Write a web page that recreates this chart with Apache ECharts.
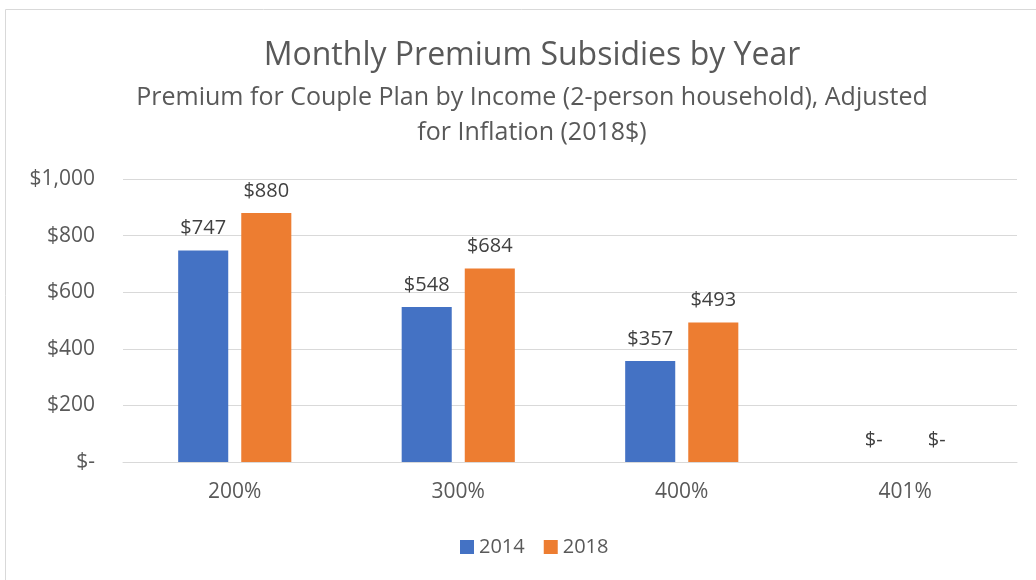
<!DOCTYPE html>
<html>
<head>
<meta charset="utf-8">
<script src="https://cdn.jsdelivr.net/npm/echarts@6/dist/echarts.min.js"></script>
<style>
  html, body { margin: 0; padding: 0; background: #fff; }
  #chart { width: 1036px; height: 580px; }
</style>
</head>
<body>
<div id="chart"></div>
<script>
const categories = ['200%', '300%', '400%', '401%']
const values2014 = [747, 548, 357, 0]
const values2018 = [880, 684, 493, 0]
const seriesNames = ['2014', '2018']

const fontFamily = 'Open Sans'

// excel-ish accounting format: zero shows as "$-"
function money(v) {
  if (v === 0) return '$-'
  return '$' + v.toLocaleString('en-US')
}

const chart = echarts.init(document.getElementById('chart'))

chart.setOption({
  animation: false,
  textStyle: { fontFamily: fontFamily },
  graphic: [{
    type: 'rect',
    shape: { x: 5.5, y: 9.5, width: 1040, height: 580 },
    style: { fill: 'none', stroke: '#d9d9d9', lineWidth: 1 }
  }],
  title: {
    text: 'Monthly Premium Subsidies by Year',
    subtext: 'Premium for Couple Plan by Income (2-person household), Adjusted\nfor Inflation (2018$)',
    left: 527,
    textAlign: 'center',
    top: 35,
    itemGap: 8,
    textStyle: { fontFamily: fontFamily, fontSize: 32, fontWeight: 'normal', color: '#595959' },
    subtextStyle: { fontFamily: fontFamily, fontSize: 25, color: '#595959', lineHeight: 35, align: 'center' }
  },
  legend: {
    data: seriesNames,
    bottom: 18,
    left: 455,
    itemWidth: 14,
    itemHeight: 14,
    itemGap: 19,
    icon: 'rect',
    textStyle: { fontFamily: fontFamily, fontSize: 20, color: '#595959' }
  },
  grid: {
    left: 123,
    right: 19,
    top: 179,
    bottom: 118
  },
  xAxis: {
    type: 'category',
    data: categories,
    axisTick: { show: false },
    axisLine: { lineStyle: { color: '#d9d9d9', width: 1 } },
    axisLabel: { color: '#595959', fontSize: 21, margin: 20 }
  },
  yAxis: {
    type: 'value',
    min: 0,
    max: 1000,
    interval: 200,
    axisLine: { show: false },
    axisTick: { show: false },
    splitLine: { lineStyle: { color: '#d9d9d9', width: 1 } },
    axisLabel: {
      color: '#595959',
      fontSize: 21,
      margin: 28,
      formatter: money
    }
  },
  series: [
    {
      name: seriesNames[0],
      type: 'bar',
      data: values2014,
      barWidth: '22.4%',
      barGap: '26%',
      itemStyle: { color: '#4472c4' },
      label: {
        show: true,
        position: 'top',
        distance: 12,
        fontSize: 20,
        color: '#404040',
        formatter: p => money(p.value)
      }
    },
    {
      name: seriesNames[1],
      type: 'bar',
      data: values2018,
      barWidth: '22.4%',
      itemStyle: { color: '#ed7d31' },
      label: {
        show: true,
        position: 'top',
        distance: 12,
        fontSize: 20,
        color: '#404040',
        formatter: p => money(p.value)
      }
    }
  ]
})
</script>
</body>
</html>
